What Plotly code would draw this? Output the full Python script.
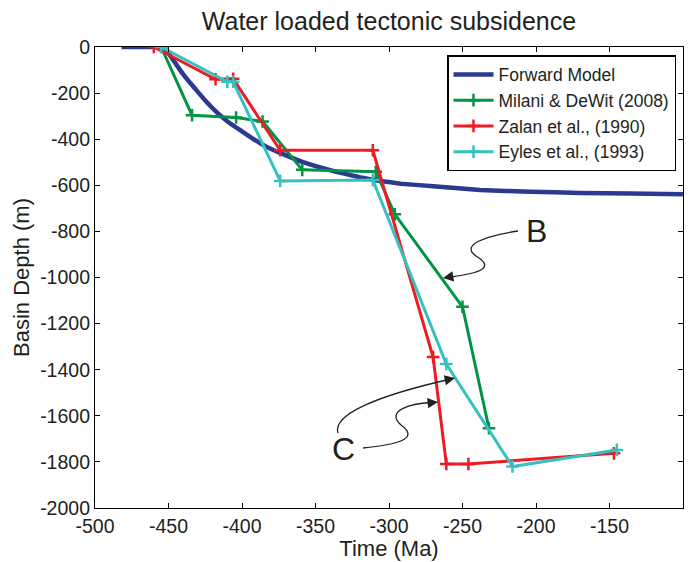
import plotly.graph_objects as go

# ---- data ----
fwd_t = [-482, -470, -460, -453, -448, -441, -436, -432, -425, -418, -410, -401, -393, -385,
         -372, -358, -338, -320, -306, -292, -272, -238, -204, -170, -136, -100]
fwd_d = [0, 0, 0, -5, -45, -110, -150, -180, -232, -278, -322, -362, -396, -427,
         -465, -501, -538, -565, -581, -593, -603, -620, -628, -633, -636, -639]

milani_t = [-455, -434, -404, -386, -359, -309, -296, -250, -232]
milani_d = [0, -296, -306, -323, -533, -541, -726, -1127, -1654]

zalan_t = [-460, -418, -406, -374, -311, -270, -261, -246, -147]
zalan_d = [0, -140, -138, -448, -448, -1345, -1809, -1809, -1763]

eyles_t = [-455, -410, -406, -374, -311, -261, -216, -145]
eyles_d = [0, -151, -151, -581, -577, -1375, -1820, -1748]

x_ticks = [-500, -450, -400, -350, -300, -250, -200, -150, -100]
y_ticks = [0, -200, -400, -600, -800, -1000, -1200, -1400, -1600, -1800, -2000]

BLUE = "#2B3990"
GREEN = "#009444"
RED = "#ED1C24"
CYAN = "#37C0C0"
TXT = "#231F20"
FONT = "Liberation Sans, Arial, sans-serif"

W, H = 697, 562
ML, MR, MT, MB = 95, 14, 47, 54
XR = [-500, -100]
YR = [-2000, 0]


def px2d(px, py):
    x = XR[0] + (px - ML) / (W - ML - MR) * (XR[1] - XR[0])
    y = YR[1] - (py - MT) / (H - MT - MB) * (YR[1] - YR[0])
    return x, y


def path(cmds):
    out = []
    for c in cmds:
        if isinstance(c, str):
            out.append(c)
        else:
            x, y = px2d(*c)
            out.append(f"{x:.3f},{y:.3f}")
    return " ".join(out)


fig = go.Figure()
fig.add_trace(go.Scatter(x=fwd_t, y=fwd_d, mode="lines", name="Forward Model",
                         line=dict(color=BLUE, width=4.5, shape="spline", smoothing=0.3)))
mk = dict(symbol="cross-thin", size=9)
fig.add_trace(go.Scatter(x=milani_t, y=milani_d, mode="lines+markers", name="Milani & DeWit (2008)",
                         line=dict(color=GREEN, width=3),
                         marker=dict(**mk, color=GREEN, line=dict(color=GREEN, width=2.5))))
fig.add_trace(go.Scatter(x=zalan_t, y=zalan_d, mode="lines+markers", name="Zalan et al., (1990)",
                         line=dict(color=RED, width=3),
                         marker=dict(**mk, color=RED, line=dict(color=RED, width=2.5))))
fig.add_trace(go.Scatter(x=eyles_t, y=eyles_d, mode="lines+markers", name="Eyles et al., (1993)",
                         line=dict(color=CYAN, width=3),
                         marker=dict(**mk, color=CYAN, line=dict(color=CYAN, width=2.5))))

# curved annotation arrows
curves = [
    ["M", (518, 231), "C", (485, 236), (460, 245), (476, 256), "C", (494, 267), (484, 273), (446, 277.5)],
    ["M", (338, 433), "C", (332, 414), (380, 395), (451, 379)],
    ["M", (363, 448), "C", (392, 445), (422, 440), (401, 425), "C", (385, 411), (410, 403), (434, 402.5)],
]
for c in curves:
    fig.add_shape(type="path", path=path(c), xref="x", yref="y",
                  line=dict(color=TXT, width=1.3))

# arrowheads
heads = [((443, 278), (452, 276.5)), ((455, 378), (446, 380)), ((438, 402), (429, 403))]
for tip, tail in heads:
    tx, ty = px2d(*tip)
    fig.add_annotation(x=tx, y=ty, xref="x", yref="y", ax=tail[0] - tip[0], ay=tail[1] - tip[1],
                       text="", showarrow=True, arrowhead=2, arrowsize=1.6, arrowwidth=1.3,
                       arrowcolor=TXT)

bx, by = px2d(536, 231)
fig.add_annotation(x=bx, y=by, xref="x", yref="y", text="B", showarrow=False,
                   font=dict(family=FONT, size=32, color=TXT))
cx, cy = px2d(343, 449)
fig.add_annotation(x=cx, y=cy, xref="x", yref="y", text="C", showarrow=False,
                   font=dict(family=FONT, size=32, color=TXT))

axis_common = dict(showline=True, linecolor="black", linewidth=1.2, mirror="ticks",
                   ticks="inside", ticklen=5, tickwidth=1, tickcolor="black",
                   showgrid=False, zeroline=False, automargin=False,
                   tickfont=dict(family=FONT, size=19.5, color=TXT))

fig.update_layout(
    width=W, height=H,
    margin=dict(l=ML, r=MR, t=MT, b=MB, autoexpand=False),
    paper_bgcolor="white", plot_bgcolor="white",
    title=dict(text="Water loaded tectonic subsidence", x=(ML + (W - MR)) / 2 / W, xanchor="center",
               y=1 - 21 / H, yanchor="middle", font=dict(family=FONT, size=25, color=TXT)),
    xaxis=dict(range=XR, tickvals=x_ticks, ticktext=[str(v) for v in x_ticks],
               title=dict(text="Time (Ma)", font=dict(family=FONT, size=22, color=TXT), standoff=0),
               **axis_common),
    yaxis=dict(range=YR, tickvals=y_ticks, ticktext=[str(v) for v in y_ticks],
               title=dict(text="Basin Depth (m)", font=dict(family=FONT, size=22, color=TXT), standoff=4),
               **axis_common),
    legend=dict(x=(676 - ML) / (W - ML - MR), y=(H - MB - 55) / (H - MT - MB),
                xanchor="right", yanchor="top", bgcolor="white",
                bordercolor="black", borderwidth=1.5,
                font=dict(family=FONT, size=17.5, color=TXT), tracegroupgap=0,
                itemwidth=40),
    showlegend=True,
)

fig.write_html("out.html")
